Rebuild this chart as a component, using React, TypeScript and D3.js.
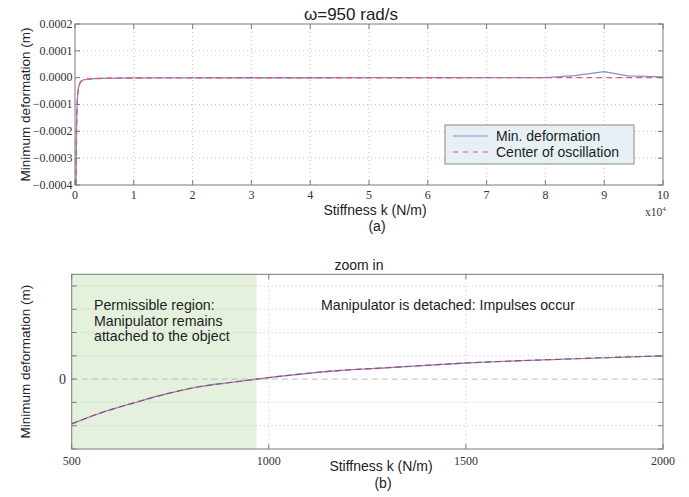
import React from "react";
import * as d3 from "d3";

// ---------- Data ----------
// Top plot (a): stiffness k in units of 1e4 N/m, deformation in m
const topK = [0.018, 0.02, 0.025, 0.03, 0.035, 0.04, 0.05, 0.06, 0.08, 0.1, 0.13, 0.17, 0.25, 0.35, 0.5, 0.8, 1.2, 2, 3, 4, 5, 6, 7, 8, 8.5, 9, 9.4, 10];
const topMinDeformation = [-0.0004, -0.00032, -0.00021, -0.000147, -0.000108, -0.000083, -0.000053, -0.000038, -0.000022, -0.000014, -0.0000095, -0.0000072, -0.0000048, -0.0000034, -0.0000024, -0.0000015, -0.000001, -0.0000006, -0.0000004, -0.0000003, -0.0000002, -0.0000001, 0, 0.0000004, 0.0000075, 0.0000224, 0.000007, 0.0000026];
const topCenterOsc = [-0.0004, -0.00032, -0.00021, -0.000147, -0.000108, -0.000083, -0.000053, -0.000038, -0.000022, -0.000014, -0.0000095, -0.0000072, -0.0000048, -0.0000034, -0.0000024, -0.0000015, -0.000001, -0.0000006, -0.0000004, -0.0000003, -0.0000002, -0.0000001, 0, 0, 0, 0, 0, 0];
const topXTicks = [0, 1, 2, 3, 4, 5, 6, 7, 8, 9, 10];
const topYTicks = [0.0002, 0.0001, 0, -0.0001, -0.0002, -0.0003, -0.0004];
const topYTickLabels = ["0.0002", "0.0001", "0.0000", "\u22120.0001", "\u22120.0002", "\u22120.0003", "\u22120.0004"];

// Bottom plot (b): zoom in, k in N/m, deformation in relative units
const botK = [500, 572, 656, 741, 825, 910, 969, 1180, 1300, 1500, 1750, 2000];
const botMinDeformation = [-1.92, -1.46, -1.03, -0.63, -0.32, -0.13, 0, 0.37, 0.49, 0.69, 0.86, 1.0];
const botCenterOsc = [-1.92, -1.46, -1.03, -0.63, -0.32, -0.13, 0, 0.37, 0.49, 0.69, 0.86, 1.0];
const botXTicks = [500, 1000, 1500, 2000];
const botYTicks = [-3, -2, -1, 0, 1, 2, 3, 4];
const permissibleLimitK = 969;

const SANS = "Liberation Sans, Arial, sans-serif";
const SERIF = "Liberation Serif, DejaVu Serif, Times New Roman, serif";
const BLUE = "#7b93cc";
const RED = "#e0587a";
const AXIS = "#7a7a7a";
const GRID = "#c4c4c4";

export default function App() {
  // top scales
  const tx = d3.scaleLinear().domain([0, 10]).range([75, 663]);
  const ty = d3.scaleLinear().domain([-0.0004, 0.0002]).range([185, 24]);
  // bottom scales
  const bx = d3.scaleLinear().domain([500, 2000]).range([71.7, 663]);
  const by = d3.scaleLinear().domain([-3, 4.5]).range([449, 274.3]);

  const topLine = (vals: number[]) =>
    d3.line<number>().x((_, i) => tx(topK[i])).y((d) => ty(d)).curve(d3.curveLinear)(vals) || "";
  const botLine = (vals: number[]) =>
    d3.line<number>().x((_, i) => bx(botK[i])).y((d) => by(d)).curve(d3.curveMonotoneX)(vals) || "";

  const [tx0, tx1] = tx.range();
  const [ty1, ty0] = ty.range();
  const [bx0, bx1] = bx.range();
  const [by1, by0] = by.range();
  const tick = 5;

  return (
    <svg width={689} height={497} style={{ position: "absolute", left: 0, top: 0, background: "#fff" }}>
      <defs>
        <clipPath id="clipTop">
          <rect x={tx0} y={ty0} width={tx1 - tx0} height={ty1 - ty0} />
        </clipPath>
        <clipPath id="clipBot">
          <rect x={bx0} y={by0} width={bx1 - bx0} height={by1 - by0} />
        </clipPath>
      </defs>

      {/* ================= TOP PLOT ================= */}
      <rect x={tx0} y={ty0} width={tx1 - tx0} height={ty1 - ty0} fill="#fff" />
      {topXTicks.slice(1, -1).map((t) => (
        <line key={"tgx" + t} x1={tx(t)} x2={tx(t)} y1={ty0} y2={ty1} stroke={GRID} strokeDasharray="1,3" />
      ))}
      {topYTicks.slice(1, -1).map((t) => (
        <line key={"tgy" + t} x1={tx0} x2={tx1} y1={ty(t)} y2={ty(t)} stroke={GRID} strokeDasharray="1,3" />
      ))}
      <g clipPath="url(#clipTop)">
        <path d={topLine(topMinDeformation)} fill="none" stroke={BLUE} strokeWidth={1.3} />
        <path d={topLine(topCenterOsc)} fill="none" stroke={RED} strokeWidth={1.4} strokeDasharray="6,4" />
      </g>
      <rect x={tx0} y={ty0} width={tx1 - tx0} height={ty1 - ty0} fill="none" stroke={AXIS} strokeWidth={1} />
      {topXTicks.map((t) => (
        <g key={"txt" + t}>
          <line x1={tx(t)} x2={tx(t)} y1={ty1} y2={ty1 - tick} stroke={AXIS} />
          <line x1={tx(t)} x2={tx(t)} y1={ty0} y2={ty0 + tick} stroke={AXIS} />
          <text x={tx(t)} y={199} textAnchor="middle" fontFamily={SERIF} fontSize={12} fill="#333">{t}</text>
        </g>
      ))}
      {topYTicks.map((t, i) => (
        <g key={"tyt" + t}>
          <line x1={tx0} x2={tx0 + tick} y1={ty(t)} y2={ty(t)} stroke={AXIS} />
          <line x1={tx1} x2={tx1 - tick} y1={ty(t)} y2={ty(t)} stroke={AXIS} />
          <text x={72.5} y={ty(t) + 3.8} textAnchor="end" fontFamily={SERIF} fontSize={12} fill="#333">{topYTickLabels[i]}</text>
        </g>
      ))}
      <text x={351} y={20} textAnchor="middle" fontFamily={SANS} fontSize={17} fill="#222">ω=950 rad/s</text>
      <text x={375} y={215} textAnchor="middle" fontFamily={SANS} fontSize={14} fill="#222">Stiffness k (N/m)</text>
      <text x={377} y={231} textAnchor="middle" fontFamily={SANS} fontSize={14} fill="#222">(a)</text>
      <text x={645} y={216} fontFamily={SERIF} fontSize={11.5} fill="#333">x10<tspan dy={-5} fontSize={7}>4</tspan></text>
      <text transform={`translate(30,${(ty0 + ty1) / 2}) rotate(-90)`} textAnchor="middle" fontFamily={SANS} fontSize={13.5} fill="#222">Minimum deformation (m)</text>

      {/* legend */}
      <rect x={445} y={125} width={189} height={39} fill="#e7f1f5" stroke="#888" strokeWidth={1} />
      <line x1={453} x2={488} y1={136} y2={136} stroke={BLUE} strokeWidth={1.2} />
      <line x1={453} x2={488} y1={152} y2={152} stroke={RED} strokeWidth={1.2} strokeDasharray="5,5" />
      <text x={496} y={141} fontFamily={SANS} fontSize={14} fill="#222">Min. deformation</text>
      <text x={496} y={157} fontFamily={SANS} fontSize={14} fill="#222">Center of oscillation</text>

      {/* ================= BOTTOM PLOT ================= */}
      <rect x={bx0} y={by0} width={bx1 - bx0} height={by1 - by0} fill="#fff" />
      <rect x={bx0} y={by0} width={bx(permissibleLimitK) - bx0} height={by1 - by0} fill="#e4f1dd" />
      {botXTicks.slice(1, -1).map((t) => (
        <line key={"bgx" + t} x1={bx(t)} x2={bx(t)} y1={by0} y2={by1} stroke={GRID} strokeDasharray="1,3" />
      ))}
      {botYTicks.filter((t) => t !== 0 && t > -3).map((t) => (
        <line key={"bgy" + t} x1={bx0} x2={bx1} y1={by(t)} y2={by(t)} stroke={GRID} strokeDasharray="1,3" />
      ))}
      <line x1={bx0} x2={bx1} y1={by(0)} y2={by(0)} stroke="#bdbdbd" strokeDasharray="6,4" />
      <g clipPath="url(#clipBot)">
        <path d={botLine(botMinDeformation)} fill="none" stroke={BLUE} strokeWidth={1.4} />
        <path d={botLine(botCenterOsc)} fill="none" stroke="#b53a5a" strokeWidth={1.1} strokeDasharray="6,4" />
      </g>
      <rect x={bx0} y={by0} width={bx1 - bx0} height={by1 - by0} fill="none" stroke={AXIS} strokeWidth={1} />
      {botXTicks.map((t) => (
        <g key={"bxt" + t}>
          <line x1={bx(t)} x2={bx(t)} y1={by1} y2={by1 - tick} stroke={AXIS} />
          <line x1={bx(t)} x2={bx(t)} y1={by0} y2={by0 + tick} stroke={AXIS} />
          <text x={bx(t)} y={465} textAnchor="middle" fontFamily={SERIF} fontSize={12} fill="#333">{t}</text>
        </g>
      ))}
      {botYTicks.map((t) => (
        <g key={"byt" + t}>
          <line x1={bx0} x2={bx0 + tick} y1={by(t)} y2={by(t)} stroke={AXIS} />
          <line x1={bx1} x2={bx1 - tick} y1={by(t)} y2={by(t)} stroke={AXIS} />
        </g>
      ))}
      <text x={66} y={by(0) + 4.5} textAnchor="end" fontFamily={SERIF} fontSize={14} fill="#333">0</text>
      <text x={359} y={270} textAnchor="middle" fontFamily={SANS} fontSize={14} fill="#222">zoom in</text>
      <text x={381} y={471} textAnchor="middle" fontFamily={SANS} fontSize={14} fill="#222">Stiffness k (N/m)</text>
      <text x={383} y={488} textAnchor="middle" fontFamily={SANS} fontSize={14} fill="#222">(b)</text>
      <text transform={`translate(30,${(by0 + by1) / 2}) rotate(-90)`} textAnchor="middle" fontFamily={SANS} fontSize={13.5} fill="#222">Minimum deformation (m)</text>
      <text fontFamily={SANS} fontSize={14.2} fill="#222">
        <tspan x={94} y={309.5}>Permissible region:</tspan>
        <tspan x={94} y={325.5}>Manipulator remains</tspan>
        <tspan x={94} y={341}>attached to the object</tspan>
      </text>
      <text x={321} y={310} fontFamily={SANS} fontSize={14.2} fill="#222">Manipulator is detached: Impulses occur</text>
    </svg>
  );
}
